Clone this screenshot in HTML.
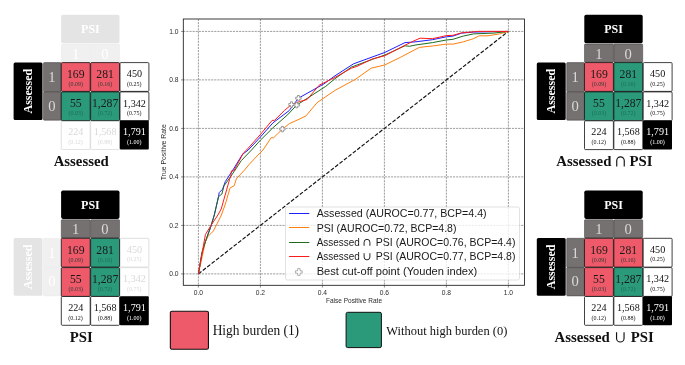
<!DOCTYPE html>
<html><head><meta charset="utf-8"><title>ROC</title>
<style>html,body{margin:0;padding:0;background:#fff;}body{width:685px;height:365px;overflow:hidden;font-family:"Liberation Sans",sans-serif;}svg{display:block;will-change:transform;}</style>
</head><body>
<svg width="685" height="365" viewBox="0 0 685 365">
<rect width="685" height="365" fill="#fff"/>
<g id="plot">
<g stroke="#666" stroke-width="0.65" stroke-dasharray="2.1,1.0" fill="none">
<line x1="198.4" y1="19.0" x2="198.4" y2="285.3"/>
<line x1="183.3" y1="273.9" x2="524.5" y2="273.9"/>
<line x1="260.4" y1="19.0" x2="260.4" y2="285.3"/>
<line x1="183.3" y1="225.4" x2="524.5" y2="225.4"/>
<line x1="322.4" y1="19.0" x2="322.4" y2="285.3"/>
<line x1="183.3" y1="176.9" x2="524.5" y2="176.9"/>
<line x1="384.4" y1="19.0" x2="384.4" y2="285.3"/>
<line x1="183.3" y1="128.4" x2="524.5" y2="128.4"/>
<line x1="446.4" y1="19.0" x2="446.4" y2="285.3"/>
<line x1="183.3" y1="79.9" x2="524.5" y2="79.9"/>
<line x1="508.4" y1="19.0" x2="508.4" y2="285.3"/>
<line x1="183.3" y1="31.4" x2="524.5" y2="31.4"/>
</g>
<g stroke="#222" stroke-width="0.5">
<line x1="198.4" y1="285.3" x2="198.4" y2="287.6"/>
<line x1="181.0" y1="273.9" x2="183.3" y2="273.9"/>
<line x1="260.4" y1="285.3" x2="260.4" y2="287.6"/>
<line x1="181.0" y1="225.4" x2="183.3" y2="225.4"/>
<line x1="322.4" y1="285.3" x2="322.4" y2="287.6"/>
<line x1="181.0" y1="176.9" x2="183.3" y2="176.9"/>
<line x1="384.4" y1="285.3" x2="384.4" y2="287.6"/>
<line x1="181.0" y1="128.4" x2="183.3" y2="128.4"/>
<line x1="446.4" y1="285.3" x2="446.4" y2="287.6"/>
<line x1="181.0" y1="79.9" x2="183.3" y2="79.9"/>
<line x1="508.4" y1="285.3" x2="508.4" y2="287.6"/>
<line x1="181.0" y1="31.4" x2="183.3" y2="31.4"/>
</g>
<line x1="198.4" y1="273.9" x2="508.4" y2="31.4" stroke="#111" stroke-width="1.15" stroke-dasharray="3.9,1.7"/>
<polyline points="198.4,273.9 202.2,252.3 205.6,241.0 210.8,226.6 214.3,215.0 218.5,196.7 219.2,192.6 222.6,189.2 225.3,181.6 232.9,170.0 242.4,154.5 248.2,150.0 260.5,136.9 272.9,122.9 289.3,110.5 298.4,98.2 323.6,84.1 335.0,75.8 353.6,63.8 384.9,52.4 405.0,42.6 415.0,41.9 432.5,39.7 446.4,36.8 453.0,36.1 461.7,33.1 473.4,32.1 508.4,31.4" fill="none" stroke="#1f1fff" stroke-width="1.0" stroke-linejoin="round"/>
<polyline points="198.4,273.9 205.4,241.7 208.1,236.3 213.4,231.0 217.0,223.9 221.4,215.0 225.3,204.2 230.1,187.8 234.2,185.8 236.3,178.9 244.5,170.0 249.1,164.5 258.0,155.0 263.0,150.0 271.2,137.7 273.7,137.7 282.4,129.1 289.3,123.7 300.0,118.8 306.0,115.9 317.0,102.7 334.5,90.7 355.8,79.1 371.1,68.2 384.9,64.9 400.7,57.2 419.3,47.4 432.5,46.0 446.4,44.1 453.0,44.1 463.2,41.9 473.4,38.7 479.2,35.8 488.0,35.8 499.7,33.9 508.4,31.4" fill="none" stroke="#ff7f0e" stroke-width="1.0" stroke-linejoin="round"/>
<polyline points="198.4,273.9 201.9,252.8 205.4,241.7 210.8,226.6 214.3,215.0 218.5,196.7 221.9,194.0 224.0,185.8 229.5,178.2 234.2,171.4 241.4,160.5 251.5,150.0 260.5,140.1 272.9,127.8 287.7,114.7 296.7,105.1 307.1,98.4 325.8,86.3 335.0,78.7 351.4,67.1 372.2,59.4 384.9,55.0 405.0,45.8 409.4,46.3 415.0,45.1 432.5,42.6 446.4,40.0 453.0,39.3 463.2,36.1 473.4,33.9 493.8,33.1 508.4,31.4" fill="none" stroke="#1e6b1e" stroke-width="1.0" stroke-linejoin="round"/>
<polyline points="198.4,273.9 205.4,234.6 210.8,225.7 217.9,215.0 221.2,209.0 229.5,179.6 230.8,175.5 231.5,170.9 233.8,170.9 243.4,153.0 246.6,150.0 260.5,134.4 272.1,120.4 274.5,120.4 284.4,110.5 291.5,104.5 299.5,101.6 307.1,99.5 319.2,85.2 325.8,81.9 335.0,77.4 351.4,68.2 356.9,66.4 372.2,59.0 384.9,55.7 405.0,45.2 415.0,40.4 420.1,38.2 432.5,38.7 446.4,35.6 453.0,35.3 461.7,32.8 467.6,32.4 477.8,31.4 508.4,31.4" fill="none" stroke="#ff1a1a" stroke-width="1.0" stroke-linejoin="round"/>
<polygon points="297.4,95.5 299.4,95.5 299.4,97.2 301.1,97.2 301.1,99.2 299.4,99.2 299.4,100.9 297.4,100.9 297.4,99.2 295.7,99.2 295.7,97.2 297.4,97.2" fill="#fff" stroke="#8e8e8e" stroke-width="0.9"/>
<polygon points="281.4,126.4 283.4,126.4 283.4,128.1 285.1,128.1 285.1,130.1 283.4,130.1 283.4,131.8 281.4,131.8 281.4,130.1 279.7,130.1 279.7,128.1 281.4,128.1" fill="#fff" stroke="#8e8e8e" stroke-width="0.9"/>
<polygon points="290.5,101.8 292.5,101.8 292.5,103.5 294.2,103.5 294.2,105.5 292.5,105.5 292.5,107.2 290.5,107.2 290.5,105.5 288.8,105.5 288.8,103.5 290.5,103.5" fill="#fff" stroke="#8e8e8e" stroke-width="0.9"/>
<polygon points="295.7,102.4 297.7,102.4 297.7,104.1 299.4,104.1 299.4,106.1 297.7,106.1 297.7,107.8 295.7,107.8 295.7,106.1 294.0,106.1 294.0,104.1 295.7,104.1" fill="#fff" stroke="#8e8e8e" stroke-width="0.9"/>
<rect x="183.3" y="19.0" width="341.2" height="266.3" fill="none" stroke="#1a1a1a" stroke-width="0.85"/>
<g font-family="'Liberation Sans', sans-serif" font-size="6.7" fill="#2a2a2a">
<text x="198.4" y="294.6" text-anchor="middle">0.0</text>
<text x="178.5" y="276.2" text-anchor="end">0.0</text>
<text x="260.4" y="294.6" text-anchor="middle">0.2</text>
<text x="178.5" y="227.7" text-anchor="end">0.2</text>
<text x="322.4" y="294.6" text-anchor="middle">0.4</text>
<text x="178.5" y="179.2" text-anchor="end">0.4</text>
<text x="384.4" y="294.6" text-anchor="middle">0.6</text>
<text x="178.5" y="130.7" text-anchor="end">0.6</text>
<text x="446.4" y="294.6" text-anchor="middle">0.8</text>
<text x="178.5" y="82.2" text-anchor="end">0.8</text>
<text x="508.4" y="294.6" text-anchor="middle">1.0</text>
<text x="178.5" y="33.7" text-anchor="end">1.0</text>
<text x="354" y="303.0" text-anchor="middle" font-size="6.3" textLength="56" lengthAdjust="spacingAndGlyphs">False Positive Rate</text>
<text transform="translate(165.7,152.3) rotate(-90)" text-anchor="middle" font-size="6.3" textLength="56" lengthAdjust="spacingAndGlyphs">True Positive Rate</text>
</g>
<rect x="285.5" y="207" width="234" height="73" rx="1.8" fill="#fff" fill-opacity="0.8" stroke="#cfcfcf" stroke-width="0.6"/>
<line x1="289.1" x2="309.3" y1="213.50" y2="213.50" stroke="#1f1fff" stroke-width="1.0"/>
<line x1="289.1" x2="309.3" y1="227.50" y2="227.50" stroke="#ff7f0e" stroke-width="1.0"/>
<line x1="289.1" x2="309.3" y1="242.50" y2="242.50" stroke="#1e6b1e" stroke-width="1.0"/>
<line x1="289.1" x2="309.3" y1="256.50" y2="256.50" stroke="#ff1a1a" stroke-width="1.0"/>
<polygon points="297.6,268.6 300.1,268.6 300.1,270.8 302.2,270.8 302.2,273.2 300.1,273.2 300.1,275.4 297.6,275.4 297.6,273.2 295.4,273.2 295.4,270.8 297.6,270.8" fill="#fff" stroke="#a6a6a6" stroke-width="0.9"/>
<g font-family="'Liberation Sans', sans-serif" font-size="10.3" fill="#1a1a1a">
<text x="316.7" y="217.10" textLength="169.9" lengthAdjust="spacingAndGlyphs">Assessed (AUROC=0.77, BCP=4.4)</text>
<text x="316.7" y="231.50" textLength="139.8" lengthAdjust="spacingAndGlyphs">PSI (AUROC=0.72, BCP=4.8)</text>
<text x="316.7" y="246.0" textLength="43.0" lengthAdjust="spacingAndGlyphs">Assessed</text>
<text x="375.8" y="246.0" textLength="139.6" lengthAdjust="spacingAndGlyphs">PSI (AUROC=0.76, BCP=4.4)</text>
<path d="M364.1 245.8 V242.2 a2.9 2.9 0 0 1 5.8 0 V245.8" fill="none" stroke="#1a1a1a" stroke-width="0.95"/>
<text x="316.7" y="260.4" textLength="43.0" lengthAdjust="spacingAndGlyphs">Assessed</text>
<text x="375.8" y="260.4" textLength="139.6" lengthAdjust="spacingAndGlyphs">PSI (AUROC=0.77, BCP=4.8)</text>
<path d="M364.1 253.2 V257.0 a2.9 2.9 0 0 0 5.8 0 V253.2" fill="none" stroke="#1a1a1a" stroke-width="0.95"/>
<text x="316.7" y="275.10" textLength="160.6" lengthAdjust="spacingAndGlyphs">Best cut-off point (Youden index)</text>
</g>
</g>
<rect x="170.35" y="311.2" width="38.1" height="38.1" rx="1.6" fill="#ee5a69" stroke="#111" stroke-width="1.1"/>
<rect x="346.1" y="312.3" width="35.3" height="35.3" rx="1.5" fill="#2b9a7a" stroke="#111" stroke-width="1.0"/>
<g font-family="'Liberation Serif', serif" fill="#111">
<text x="212.7" y="335.3" font-size="14" textLength="86.4" lengthAdjust="spacingAndGlyphs">High burden (1)</text>
<text x="386.3" y="335.0" font-size="13" textLength="121" lengthAdjust="spacingAndGlyphs">Without high burden (0)</text>
</g>
<g transform="translate(0.0,0.0)">
<g opacity="0.1">
<rect x="61.1" y="14.8" width="58.4" height="28.4" rx="1.8" fill="#000"/>
<rect x="61.3" y="44.0" width="28.95" height="18.3" rx="0.8" fill="#767171" stroke="#3c3838" stroke-width="0.5"/>
<rect x="90.65" y="44.0" width="28.85" height="18.3" rx="0.8" fill="#767171" stroke="#3c3838" stroke-width="0.5"/>
</g>
<g font-family="'Liberation Serif', serif" fill="#fff" text-anchor="middle">
<text x="90.4" y="33.2" font-size="12" font-weight="bold">PSI</text>
<text x="75.6" y="58.5" font-size="14.6" fill="#fff">1</text>
<text x="104.9" y="58.5" font-size="14.6" fill="#fff">0</text>
</g>
<g>
<rect x="13.6" y="62.4" width="28.9" height="57.6" rx="1.5" fill="#000"/>
<rect x="43.5" y="62.6" width="17.6" height="29.1" rx="0.8" fill="#767171" stroke="#3c3838" stroke-width="0.5"/>
<rect x="43.5" y="91.9" width="17.6" height="28.3" rx="0.8" fill="#767171" stroke="#3c3838" stroke-width="0.5"/>
</g>
<g font-family="'Liberation Serif', serif" fill="#fff" text-anchor="middle">
<text transform="translate(32.0,91.2) rotate(-90)" font-size="12" font-weight="bold">Assessed</text>
<text x="52.0" y="82.0" font-size="14.6" fill="#dadada">1</text>
<text x="52.0" y="110.5" font-size="14.6" fill="#dadada">0</text>
</g>
<rect x="61.30" y="62.60" width="28.90" height="28.80" rx="1" fill="#ee5a69" stroke="#111" stroke-width="0.8"/>
<text font-family="'Liberation Serif', serif" transform="translate(75.75,78.00) scale(0.93,1)" font-size="12.6" text-anchor="middle" fill="#1a1a1a">169</text>
<text font-family="'Liberation Serif', serif" x="75.75" y="86.00" font-size="6" text-anchor="middle" fill="#3a3a3a">(0.09)</text>
<rect x="90.65" y="62.60" width="28.90" height="28.80" rx="1" fill="#ee5a69" stroke="#111" stroke-width="0.8"/>
<text font-family="'Liberation Serif', serif" transform="translate(105.10,78.00) scale(0.93,1)" font-size="12.6" text-anchor="middle" fill="#1a1a1a">281</text>
<text font-family="'Liberation Serif', serif" x="105.10" y="86.00" font-size="6" text-anchor="middle" fill="#3a3a3a">(0.16)</text>
<rect x="61.30" y="91.90" width="28.90" height="28.80" rx="1" fill="#2b9a7a" stroke="#111" stroke-width="0.8"/>
<text font-family="'Liberation Serif', serif" transform="translate(75.75,107.30) scale(0.93,1)" font-size="12.6" text-anchor="middle" fill="#1a1a1a">55</text>
<text font-family="'Liberation Serif', serif" x="75.75" y="115.30" font-size="6" text-anchor="middle" fill="#1c6f58">(0.03)</text>
<rect x="90.65" y="91.90" width="28.90" height="28.80" rx="1" fill="#2b9a7a" stroke="#111" stroke-width="0.8"/>
<text font-family="'Liberation Serif', serif" transform="translate(105.10,107.30) scale(0.93,1)" font-size="12.6" text-anchor="middle" fill="#1a1a1a">1,287</text>
<text font-family="'Liberation Serif', serif" x="105.10" y="115.30" font-size="6" text-anchor="middle" fill="#1c6f58">(0.72)</text>
<g>
<rect x="120.00" y="62.60" width="28.90" height="28.80" rx="1" fill="#fff" stroke="#111" stroke-width="0.8"/>
<text font-family="'Liberation Serif', serif" transform="translate(134.45,77.20) scale(0.95,1)" font-size="10.7" text-anchor="middle" fill="#111">450</text>
<text font-family="'Liberation Serif', serif" x="134.30" y="85.70" font-size="6" text-anchor="middle" fill="#111">(0.25)</text>
<rect x="120.00" y="91.90" width="28.90" height="28.80" rx="1" fill="#fff" stroke="#111" stroke-width="0.8"/>
<text font-family="'Liberation Serif', serif" transform="translate(134.45,106.50) scale(0.95,1)" font-size="10.7" text-anchor="middle" fill="#111">1,342</text>
<text font-family="'Liberation Serif', serif" x="134.30" y="115.00" font-size="6" text-anchor="middle" fill="#111">(0.75)</text>
</g>
<g opacity="0.17">
<rect x="61.30" y="120.80" width="28.90" height="28.80" rx="1" fill="#fff" stroke="#111" stroke-width="0.8"/>
<text font-family="'Liberation Serif', serif" transform="translate(75.75,135.40) scale(0.95,1)" font-size="10.7" text-anchor="middle" fill="#111">224</text>
<text font-family="'Liberation Serif', serif" x="75.60" y="143.90" font-size="6" text-anchor="middle" fill="#111">(0.12)</text>
<rect x="90.65" y="120.80" width="28.90" height="28.80" rx="1" fill="#fff" stroke="#111" stroke-width="0.8"/>
<text font-family="'Liberation Serif', serif" transform="translate(105.10,135.40) scale(0.95,1)" font-size="10.7" text-anchor="middle" fill="#111">1,568</text>
<text font-family="'Liberation Serif', serif" x="104.95" y="143.90" font-size="6" text-anchor="middle" fill="#111">(0.88)</text>
</g>
<rect x="119.80" y="120.60" width="29.0" height="28.9" rx="1" fill="#000"/>
<text font-family="'Liberation Serif', serif" transform="translate(134.45,135.40) scale(0.95,1)" font-size="10.7" text-anchor="middle" fill="#fff">1,791</text>
<text font-family="'Liberation Serif', serif" x="134.30" y="143.90" font-size="6" text-anchor="middle" fill="#fff">(1.00)</text>
<text font-family="'Liberation Serif', serif" x="81.2" y="166.0" font-size="14.8" font-weight="bold" text-anchor="middle" fill="#111">Assessed</text>
</g>
<g transform="translate(0.0,175.7)">
<g>
<rect x="61.1" y="14.8" width="58.4" height="28.4" rx="1.8" fill="#000"/>
<rect x="61.3" y="44.0" width="28.95" height="18.3" rx="0.8" fill="#767171" stroke="#3c3838" stroke-width="0.5"/>
<rect x="90.65" y="44.0" width="28.85" height="18.3" rx="0.8" fill="#767171" stroke="#3c3838" stroke-width="0.5"/>
</g>
<g font-family="'Liberation Serif', serif" fill="#fff" text-anchor="middle">
<text x="90.4" y="33.2" font-size="12" font-weight="bold">PSI</text>
<text x="75.6" y="58.5" font-size="14.6" fill="#dadada">1</text>
<text x="104.9" y="58.5" font-size="14.6" fill="#dadada">0</text>
</g>
<g opacity="0.1">
<rect x="13.6" y="62.4" width="28.9" height="57.6" rx="1.5" fill="#000"/>
<rect x="43.5" y="62.6" width="17.6" height="29.1" rx="0.8" fill="#767171" stroke="#3c3838" stroke-width="0.5"/>
<rect x="43.5" y="91.9" width="17.6" height="28.3" rx="0.8" fill="#767171" stroke="#3c3838" stroke-width="0.5"/>
</g>
<g font-family="'Liberation Serif', serif" fill="#fff" text-anchor="middle">
<text transform="translate(32.0,91.2) rotate(-90)" font-size="12" font-weight="bold">Assessed</text>
<text x="52.0" y="82.0" font-size="14.6" fill="#fff">1</text>
<text x="52.0" y="110.5" font-size="14.6" fill="#fff">0</text>
</g>
<rect x="61.30" y="62.60" width="28.90" height="28.80" rx="1" fill="#ee5a69" stroke="#111" stroke-width="0.8"/>
<text font-family="'Liberation Serif', serif" transform="translate(75.75,78.00) scale(0.93,1)" font-size="12.6" text-anchor="middle" fill="#1a1a1a">169</text>
<text font-family="'Liberation Serif', serif" x="75.75" y="86.00" font-size="6" text-anchor="middle" fill="#3a3a3a">(0.09)</text>
<rect x="90.65" y="62.60" width="28.90" height="28.80" rx="1" fill="#2b9a7a" stroke="#111" stroke-width="0.8"/>
<text font-family="'Liberation Serif', serif" transform="translate(105.10,78.00) scale(0.93,1)" font-size="12.6" text-anchor="middle" fill="#1a1a1a">281</text>
<text font-family="'Liberation Serif', serif" x="105.10" y="86.00" font-size="6" text-anchor="middle" fill="#1c6f58">(0.16)</text>
<rect x="61.30" y="91.90" width="28.90" height="28.80" rx="1" fill="#ee5a69" stroke="#111" stroke-width="0.8"/>
<text font-family="'Liberation Serif', serif" transform="translate(75.75,107.30) scale(0.93,1)" font-size="12.6" text-anchor="middle" fill="#1a1a1a">55</text>
<text font-family="'Liberation Serif', serif" x="75.75" y="115.30" font-size="6" text-anchor="middle" fill="#3a3a3a">(0.03)</text>
<rect x="90.65" y="91.90" width="28.90" height="28.80" rx="1" fill="#2b9a7a" stroke="#111" stroke-width="0.8"/>
<text font-family="'Liberation Serif', serif" transform="translate(105.10,107.30) scale(0.93,1)" font-size="12.6" text-anchor="middle" fill="#1a1a1a">1,287</text>
<text font-family="'Liberation Serif', serif" x="105.10" y="115.30" font-size="6" text-anchor="middle" fill="#1c6f58">(0.72)</text>
<g opacity="0.17">
<rect x="120.00" y="62.60" width="28.90" height="28.80" rx="1" fill="#fff" stroke="#111" stroke-width="0.8"/>
<text font-family="'Liberation Serif', serif" transform="translate(134.45,77.20) scale(0.95,1)" font-size="10.7" text-anchor="middle" fill="#111">450</text>
<text font-family="'Liberation Serif', serif" x="134.30" y="85.70" font-size="6" text-anchor="middle" fill="#111">(0.25)</text>
<rect x="120.00" y="91.90" width="28.90" height="28.80" rx="1" fill="#fff" stroke="#111" stroke-width="0.8"/>
<text font-family="'Liberation Serif', serif" transform="translate(134.45,106.50) scale(0.95,1)" font-size="10.7" text-anchor="middle" fill="#111">1,342</text>
<text font-family="'Liberation Serif', serif" x="134.30" y="115.00" font-size="6" text-anchor="middle" fill="#111">(0.75)</text>
</g>
<g>
<rect x="61.30" y="120.80" width="28.90" height="28.80" rx="1" fill="#fff" stroke="#111" stroke-width="0.8"/>
<text font-family="'Liberation Serif', serif" transform="translate(75.75,135.40) scale(0.95,1)" font-size="10.7" text-anchor="middle" fill="#111">224</text>
<text font-family="'Liberation Serif', serif" x="75.60" y="143.90" font-size="6" text-anchor="middle" fill="#111">(0.12)</text>
<rect x="90.65" y="120.80" width="28.90" height="28.80" rx="1" fill="#fff" stroke="#111" stroke-width="0.8"/>
<text font-family="'Liberation Serif', serif" transform="translate(105.10,135.40) scale(0.95,1)" font-size="10.7" text-anchor="middle" fill="#111">1,568</text>
<text font-family="'Liberation Serif', serif" x="104.95" y="143.90" font-size="6" text-anchor="middle" fill="#111">(0.88)</text>
</g>
<rect x="119.80" y="120.60" width="29.0" height="28.9" rx="1" fill="#000"/>
<text font-family="'Liberation Serif', serif" transform="translate(134.45,135.40) scale(0.95,1)" font-size="10.7" text-anchor="middle" fill="#fff">1,791</text>
<text font-family="'Liberation Serif', serif" x="134.30" y="143.90" font-size="6" text-anchor="middle" fill="#fff">(1.00)</text>
<text font-family="'Liberation Serif', serif" x="81.2" y="166.0" font-size="14.8" font-weight="bold" text-anchor="middle" fill="#111">PSI</text>
</g>
<g transform="translate(523.2,0.0)">
<g>
<rect x="61.1" y="14.8" width="58.4" height="28.4" rx="1.8" fill="#000"/>
<rect x="61.3" y="44.0" width="28.95" height="18.3" rx="0.8" fill="#767171" stroke="#3c3838" stroke-width="0.5"/>
<rect x="90.65" y="44.0" width="28.85" height="18.3" rx="0.8" fill="#767171" stroke="#3c3838" stroke-width="0.5"/>
</g>
<g font-family="'Liberation Serif', serif" fill="#fff" text-anchor="middle">
<text x="90.4" y="33.2" font-size="12" font-weight="bold">PSI</text>
<text x="75.6" y="58.5" font-size="14.6" fill="#dadada">1</text>
<text x="104.9" y="58.5" font-size="14.6" fill="#dadada">0</text>
</g>
<g>
<rect x="13.6" y="62.4" width="28.9" height="57.6" rx="1.5" fill="#000"/>
<rect x="43.5" y="62.6" width="17.6" height="29.1" rx="0.8" fill="#767171" stroke="#3c3838" stroke-width="0.5"/>
<rect x="43.5" y="91.9" width="17.6" height="28.3" rx="0.8" fill="#767171" stroke="#3c3838" stroke-width="0.5"/>
</g>
<g font-family="'Liberation Serif', serif" fill="#fff" text-anchor="middle">
<text transform="translate(32.0,91.2) rotate(-90)" font-size="12" font-weight="bold">Assessed</text>
<text x="52.0" y="82.0" font-size="14.6" fill="#dadada">1</text>
<text x="52.0" y="110.5" font-size="14.6" fill="#dadada">0</text>
</g>
<rect x="61.30" y="62.60" width="28.90" height="28.80" rx="1" fill="#ee5a69" stroke="#111" stroke-width="0.8"/>
<text font-family="'Liberation Serif', serif" transform="translate(75.75,78.00) scale(0.93,1)" font-size="12.6" text-anchor="middle" fill="#1a1a1a">169</text>
<text font-family="'Liberation Serif', serif" x="75.75" y="86.00" font-size="6" text-anchor="middle" fill="#3a3a3a">(0.09)</text>
<rect x="90.65" y="62.60" width="28.90" height="28.80" rx="1" fill="#2b9a7a" stroke="#111" stroke-width="0.8"/>
<text font-family="'Liberation Serif', serif" transform="translate(105.10,78.00) scale(0.93,1)" font-size="12.6" text-anchor="middle" fill="#1a1a1a">281</text>
<text font-family="'Liberation Serif', serif" x="105.10" y="86.00" font-size="6" text-anchor="middle" fill="#1c6f58">(0.16)</text>
<rect x="61.30" y="91.90" width="28.90" height="28.80" rx="1" fill="#2b9a7a" stroke="#111" stroke-width="0.8"/>
<text font-family="'Liberation Serif', serif" transform="translate(75.75,107.30) scale(0.93,1)" font-size="12.6" text-anchor="middle" fill="#1a1a1a">55</text>
<text font-family="'Liberation Serif', serif" x="75.75" y="115.30" font-size="6" text-anchor="middle" fill="#1c6f58">(0.03)</text>
<rect x="90.65" y="91.90" width="28.90" height="28.80" rx="1" fill="#2b9a7a" stroke="#111" stroke-width="0.8"/>
<text font-family="'Liberation Serif', serif" transform="translate(105.10,107.30) scale(0.93,1)" font-size="12.6" text-anchor="middle" fill="#1a1a1a">1,287</text>
<text font-family="'Liberation Serif', serif" x="105.10" y="115.30" font-size="6" text-anchor="middle" fill="#1c6f58">(0.72)</text>
<g>
<rect x="120.00" y="62.60" width="28.90" height="28.80" rx="1" fill="#fff" stroke="#111" stroke-width="0.8"/>
<text font-family="'Liberation Serif', serif" transform="translate(134.45,77.20) scale(0.95,1)" font-size="10.7" text-anchor="middle" fill="#111">450</text>
<text font-family="'Liberation Serif', serif" x="134.30" y="85.70" font-size="6" text-anchor="middle" fill="#111">(0.25)</text>
<rect x="120.00" y="91.90" width="28.90" height="28.80" rx="1" fill="#fff" stroke="#111" stroke-width="0.8"/>
<text font-family="'Liberation Serif', serif" transform="translate(134.45,106.50) scale(0.95,1)" font-size="10.7" text-anchor="middle" fill="#111">1,342</text>
<text font-family="'Liberation Serif', serif" x="134.30" y="115.00" font-size="6" text-anchor="middle" fill="#111">(0.75)</text>
</g>
<g>
<rect x="61.30" y="120.80" width="28.90" height="28.80" rx="1" fill="#fff" stroke="#111" stroke-width="0.8"/>
<text font-family="'Liberation Serif', serif" transform="translate(75.75,135.40) scale(0.95,1)" font-size="10.7" text-anchor="middle" fill="#111">224</text>
<text font-family="'Liberation Serif', serif" x="75.60" y="143.90" font-size="6" text-anchor="middle" fill="#111">(0.12)</text>
<rect x="90.65" y="120.80" width="28.90" height="28.80" rx="1" fill="#fff" stroke="#111" stroke-width="0.8"/>
<text font-family="'Liberation Serif', serif" transform="translate(105.10,135.40) scale(0.95,1)" font-size="10.7" text-anchor="middle" fill="#111">1,568</text>
<text font-family="'Liberation Serif', serif" x="104.95" y="143.90" font-size="6" text-anchor="middle" fill="#111">(0.88)</text>
</g>
<rect x="119.80" y="120.60" width="29.0" height="28.9" rx="1" fill="#000"/>
<text font-family="'Liberation Serif', serif" transform="translate(134.45,135.40) scale(0.95,1)" font-size="10.7" text-anchor="middle" fill="#fff">1,791</text>
<text font-family="'Liberation Serif', serif" x="134.30" y="143.90" font-size="6" text-anchor="middle" fill="#fff">(1.00)</text>
<text font-family="'Liberation Serif', serif" x="33.1" y="166.0" font-size="14.8" font-weight="bold" fill="#111">Assessed</text>
<text font-family="'Liberation Serif', serif" x="129.3" y="166.0" font-size="14.8" font-weight="bold" text-anchor="end" fill="#111">PSI</text>
<path d="M93.55 166.5 V160.6 a3.75 3.75 0 0 1 7.5 0 V166.5" fill="none" stroke="#111" stroke-width="1.15"/>
</g>
<g transform="translate(523.2,175.7)">
<g>
<rect x="61.1" y="14.8" width="58.4" height="28.4" rx="1.8" fill="#000"/>
<rect x="61.3" y="44.0" width="28.95" height="18.3" rx="0.8" fill="#767171" stroke="#3c3838" stroke-width="0.5"/>
<rect x="90.65" y="44.0" width="28.85" height="18.3" rx="0.8" fill="#767171" stroke="#3c3838" stroke-width="0.5"/>
</g>
<g font-family="'Liberation Serif', serif" fill="#fff" text-anchor="middle">
<text x="90.4" y="33.2" font-size="12" font-weight="bold">PSI</text>
<text x="75.6" y="58.5" font-size="14.6" fill="#dadada">1</text>
<text x="104.9" y="58.5" font-size="14.6" fill="#dadada">0</text>
</g>
<g>
<rect x="13.6" y="62.4" width="28.9" height="57.6" rx="1.5" fill="#000"/>
<rect x="43.5" y="62.6" width="17.6" height="29.1" rx="0.8" fill="#767171" stroke="#3c3838" stroke-width="0.5"/>
<rect x="43.5" y="91.9" width="17.6" height="28.3" rx="0.8" fill="#767171" stroke="#3c3838" stroke-width="0.5"/>
</g>
<g font-family="'Liberation Serif', serif" fill="#fff" text-anchor="middle">
<text transform="translate(32.0,91.2) rotate(-90)" font-size="12" font-weight="bold">Assessed</text>
<text x="52.0" y="82.0" font-size="14.6" fill="#dadada">1</text>
<text x="52.0" y="110.5" font-size="14.6" fill="#dadada">0</text>
</g>
<rect x="61.30" y="62.60" width="28.90" height="28.80" rx="1" fill="#ee5a69" stroke="#111" stroke-width="0.8"/>
<text font-family="'Liberation Serif', serif" transform="translate(75.75,78.00) scale(0.93,1)" font-size="12.6" text-anchor="middle" fill="#1a1a1a">169</text>
<text font-family="'Liberation Serif', serif" x="75.75" y="86.00" font-size="6" text-anchor="middle" fill="#3a3a3a">(0.09)</text>
<rect x="90.65" y="62.60" width="28.90" height="28.80" rx="1" fill="#ee5a69" stroke="#111" stroke-width="0.8"/>
<text font-family="'Liberation Serif', serif" transform="translate(105.10,78.00) scale(0.93,1)" font-size="12.6" text-anchor="middle" fill="#1a1a1a">281</text>
<text font-family="'Liberation Serif', serif" x="105.10" y="86.00" font-size="6" text-anchor="middle" fill="#3a3a3a">(0.16)</text>
<rect x="61.30" y="91.90" width="28.90" height="28.80" rx="1" fill="#ee5a69" stroke="#111" stroke-width="0.8"/>
<text font-family="'Liberation Serif', serif" transform="translate(75.75,107.30) scale(0.93,1)" font-size="12.6" text-anchor="middle" fill="#1a1a1a">55</text>
<text font-family="'Liberation Serif', serif" x="75.75" y="115.30" font-size="6" text-anchor="middle" fill="#3a3a3a">(0.03)</text>
<rect x="90.65" y="91.90" width="28.90" height="28.80" rx="1" fill="#2b9a7a" stroke="#111" stroke-width="0.8"/>
<text font-family="'Liberation Serif', serif" transform="translate(105.10,107.30) scale(0.93,1)" font-size="12.6" text-anchor="middle" fill="#1a1a1a">1,287</text>
<text font-family="'Liberation Serif', serif" x="105.10" y="115.30" font-size="6" text-anchor="middle" fill="#1c6f58">(0.72)</text>
<g>
<rect x="120.00" y="62.60" width="28.90" height="28.80" rx="1" fill="#fff" stroke="#111" stroke-width="0.8"/>
<text font-family="'Liberation Serif', serif" transform="translate(134.45,77.20) scale(0.95,1)" font-size="10.7" text-anchor="middle" fill="#111">450</text>
<text font-family="'Liberation Serif', serif" x="134.30" y="85.70" font-size="6" text-anchor="middle" fill="#111">(0.25)</text>
<rect x="120.00" y="91.90" width="28.90" height="28.80" rx="1" fill="#fff" stroke="#111" stroke-width="0.8"/>
<text font-family="'Liberation Serif', serif" transform="translate(134.45,106.50) scale(0.95,1)" font-size="10.7" text-anchor="middle" fill="#111">1,342</text>
<text font-family="'Liberation Serif', serif" x="134.30" y="115.00" font-size="6" text-anchor="middle" fill="#111">(0.75)</text>
</g>
<g>
<rect x="61.30" y="120.80" width="28.90" height="28.80" rx="1" fill="#fff" stroke="#111" stroke-width="0.8"/>
<text font-family="'Liberation Serif', serif" transform="translate(75.75,135.40) scale(0.95,1)" font-size="10.7" text-anchor="middle" fill="#111">224</text>
<text font-family="'Liberation Serif', serif" x="75.60" y="143.90" font-size="6" text-anchor="middle" fill="#111">(0.12)</text>
<rect x="90.65" y="120.80" width="28.90" height="28.80" rx="1" fill="#fff" stroke="#111" stroke-width="0.8"/>
<text font-family="'Liberation Serif', serif" transform="translate(105.10,135.40) scale(0.95,1)" font-size="10.7" text-anchor="middle" fill="#111">1,568</text>
<text font-family="'Liberation Serif', serif" x="104.95" y="143.90" font-size="6" text-anchor="middle" fill="#111">(0.88)</text>
</g>
<rect x="119.80" y="120.60" width="29.0" height="28.9" rx="1" fill="#000"/>
<text font-family="'Liberation Serif', serif" transform="translate(134.45,135.40) scale(0.95,1)" font-size="10.7" text-anchor="middle" fill="#fff">1,791</text>
<text font-family="'Liberation Serif', serif" x="134.30" y="143.90" font-size="6" text-anchor="middle" fill="#fff">(1.00)</text>
<text font-family="'Liberation Serif', serif" x="31.4" y="166.0" font-size="14.8" font-weight="bold" fill="#111">Assessed</text>
<text font-family="'Liberation Serif', serif" x="130.5" y="166.0" font-size="14.8" font-weight="bold" text-anchor="end" fill="#111">PSI</text>
<path d="M93.35 156.6 V162.5 a3.75 3.75 0 0 0 7.5 0 V156.6" fill="none" stroke="#111" stroke-width="1.15"/>
</g>
</svg>
</body></html>
